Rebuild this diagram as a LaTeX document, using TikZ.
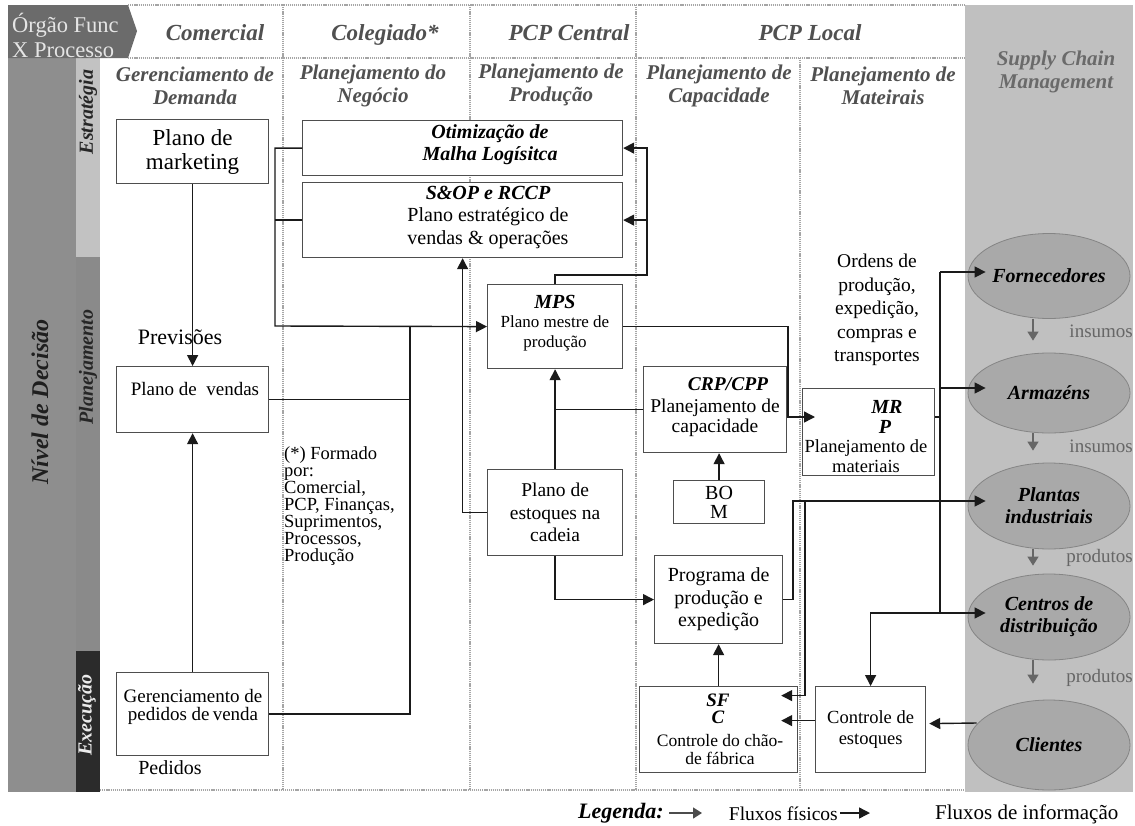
\documentclass[tikz,border=0pt]{standalone}
\usepackage{fontspec}
\setmainfont{Liberation Serif}
\usetikzlibrary{arrows.meta,calc,shapes.geometric}
\newcommand\fsz[2]{\fontsize{#1pt}{#2pt}\selectfont}
\definecolor{hdrdark}{HTML}{6B6B6B}
\definecolor{leftgray}{HTML}{8E8E8E}
\definecolor{stratgray}{HTML}{C2C2C2}
\definecolor{plangray}{HTML}{8A8A8A}
\definecolor{execdark}{HTML}{2B2B2B}
\definecolor{scmgray}{HTML}{C0C0C0}
\definecolor{ellgray}{HTML}{A9A9A9}
\definecolor{ellline}{HTML}{858585}
\definecolor{headtext}{HTML}{505050}
\definecolor{scmtext}{HTML}{6A6A6A}
\definecolor{boxline}{HTML}{4E4E4E}
\definecolor{gridline}{HTML}{A5A5A5}
\definecolor{linkcol}{HTML}{1A1A1A}
\definecolor{physcol}{HTML}{666666}
\begin{document}
\begin{tikzpicture}[x=1pt,y=-1pt,
  box/.style={draw=boxline, line width=1.2pt, fill=white, inner sep=0pt, anchor=north west, align=center},
  txt/.style={inner sep=0pt, align=center, text=black},
  head/.style={inner sep=0pt, anchor=base, text=headtext, font=\fsz{23}{25}\bfseries\itshape},
  sub/.style={inner sep=0pt, align=center, text=headtext, font=\fsz{21}{23}\bfseries\itshape},
  side/.style={inner sep=0pt, rotate=90, font=\fsz{20}{22}\bfseries\itshape},
  ell/.style={ellipse, draw=ellline, fill=ellgray, line width=0.8pt, inner sep=0pt, minimum width=162pt, align=center, font=\fsz{20}{22}\bfseries\itshape},
  grid/.style={draw=gridline, line width=1.8pt, dash pattern=on 1.2pt off 0.9pt},
  link/.style={draw=linkcol, line width=1.4pt},
  info/.style={link, -{Triangle[length=11pt,width=11pt]}},
  phys/.style={draw=physcol, line width=1.4pt, -{Triangle[length=9pt,width=11pt]}},
  tag/.style={inner sep=0pt, text=physcol, font=\fsz{19}{21}}
]
\useasboundingbox (0,0) rectangle (1135,825);
\fill[white] (0,0) rectangle (1135,825);

% ---- background bands
\fill[scmgray] (965,5) rectangle (1133,792);
\fill[leftgray] (8,58) rectangle (76,792);
\fill[stratgray] (76,58) rectangle (100,257);
\fill[plangray] (76,257) rectangle (100,651);
\fill[execdark] (76,651) rectangle (100,792);
\fill[hdrdark] (8,5) -- (128,5) -- (137,31) -- (128,58) -- (8,58) -- cycle;
\node[inner sep=0pt, anchor=west, align=left, text=white!90!black, font=\fsz{22.5}{25}] (corner) at (12,35) {Órgão Func\\X Processo};

% ---- grid
\draw[grid] (128,5) -- (965,5);
\draw[grid] (128,58) -- (965,58);
\draw[grid] (100,790) -- (965,790);
\draw[grid] (283,5) -- (283,790);
\draw[grid] (470,5) -- (470,790);
\draw[grid] (636,5) -- (636,790);
\draw[grid] (800,58) -- (800,790);

% ---- side labels
\node[side, font=\fsz{24}{26}\bfseries\itshape, text=black!88] (nivel) at (40,402) {Nível de Decisão};
\node[side, text=black!85] (estr) at (88,112) {Estratégia};
\node[side, text=black!85] (plan) at (88,367) {Planejamento};
\node[side, text=white!92!black] (exec) at (87,715) {Execução};

% ---- column headers
\node[head] (h1) at (215,40) {Comercial};
\node[head] (h2) at (385,40) {Colegiado*};
\node[head] (h3) at (569,40) {PCP Central};
\node[head] (h4) at (810,40) {PCP Local};
\node[sub] (s1) at (195,86) {Gerenciamento de\\Demanda};
\node[sub] (s2) at (373,86) {Planejamento do\\Negócio};
\node[sub] (s3) at (551,85) {Planejamento de\\Produção};
\node[sub] (s4) at (719,86) {Planejamento de\\Capacidade};
\node[sub] (s5) at (883,86) {Planejamento de\\Mateirais};
\node[sub, text=scmtext] (s6) at (1056,72) {Supply Chain\\Management};

% ---- process boxes
\node[box, minimum width=152pt, minimum height=64pt, font=\fsz{23}{24}] (mkt) at (116,119) {Plano de\\marketing};
\node[box, minimum width=320pt, minimum height=55pt] (otim) at (302,120) {};
\node[txt, font=\fsz{20}{22}\bfseries\itshape] (otimt) at (490,145) {Otimização de\\Malha Logísitca};
\node[box, minimum width=320pt, minimum height=75pt] (sop) at (302,182) {};
\node[txt, font=\fsz{20}{22.5}] (sopt) at (488,217) {{\bfseries\itshape S\&OP e RCCP}\\Plano estratégico de\\vendas \& operações};
\node[box, minimum width=135pt, minimum height=84pt] (mps) at (487,284) {};
\node[txt, font=\fsz{17}{19.5}] (mpst) at (555,323) {{\fsz{20}{19.5}\bfseries\itshape MPS}\\Plano mestre de\\produção};
\node[box, minimum width=135pt, minimum height=86pt, font=\fsz{19.5}{22.5}] (est) at (487,469) {Plano de\\estoques na\\cadeia};
\node[box, minimum width=143pt, minimum height=86pt] (crp) at (643,366) {};
\node[txt, font=\fsz{19.5}{20}\bfseries\itshape] (crpa) at (728,384) {CRP/CPP};
\node[txt, font=\fsz{19.5}{20}] (crpb) at (715,418) {Planejamento de\\capacidade};
\node[box, minimum width=91pt, minimum height=43pt, font=\fsz{20}{19}] (bom) at (673,480) {BO\\M};
\node[box, minimum width=132pt, minimum height=87pt] (mrp) at (802,388) {};
\node[txt, font=\fsz{20}{21}\bfseries\itshape] (mrpa) at (887,407) {MR};
\node[txt, font=\fsz{20}{21}\bfseries\itshape] (mrpb) at (885,427) {P};
\node[txt, font=\fsz{18.5}{20}] (mrpc) at (866,456) {Planejamento de\\materiais};
\node[box, minimum width=128pt, minimum height=88pt, font=\fsz{20}{22.5}] (prog) at (654,555) {Programa de\\produção e\\expedição};
\node[box, minimum width=158pt, minimum height=86pt] (sfc) at (639,686) {};
\node[txt, font=\fsz{19}{17}\bfseries\itshape] (sfca) at (718,709) {SF\\C};
\node[txt, font=\fsz{17.5}{18}] (sfcb) at (720,750) {Controle do chão-\\de fábrica};
\node[box, minimum width=110pt, minimum height=86pt, font=\fsz{18.5}{21}] (ctrl) at (815,686) {Controle de\\estoques};
\node[box, minimum width=152pt, minimum height=66pt] (vendas) at (116,366) {};
\node[txt, font=\fsz{19}{21}] (vendast) at (195,389) {Plano de\enspace vendas};
\node[box, minimum width=152pt, minimum height=83pt] (ped) at (116,672) {};
\node[txt, font=\fsz{19}{18}] (pedt) at (193,707) {Gerenciamento de\\pedidos de\,venda};

% ---- free labels
\node[txt, font=\fsz{22}{24}] (prev) at (180,337) {Previsões};
\node[txt, font=\fsz{20}{22}] (pedl) at (170,768) {Pedidos};
\node[txt, align=left, anchor=west, fill=white, font=\fsz{18.5}{17}] (form) at (284,506) {(*) Formado\\por:\\Comercial,\\PCP, Finanças,\\Suprimentos,\\Processos,\\Produção};
\node[txt, font=\fsz{19.5}{23.5}] (ordens) at (877,310) {Ordens de\\produção,\\expedição,\\compras e\\transportes};

% ---- supply chain
\node[ell, minimum height=85pt] (forn) at (1049,276) {Fornecedores};
\node[ell, minimum height=80pt] (arm) at (1049,393) {Armazéns};
\node[ell, minimum height=86pt] (pla) at (1049,506) {Plantas\\industriais};
\node[ell, minimum height=86pt] (cen) at (1049,617) {Centros de\\distribuição};
\node[ell, minimum height=90pt] (cli) at (1049,745) {Clientes};
\draw[phys, shorten >=12pt] ($(forn.south)+(-16,0)$) -- ($(arm.north)+(-16,0)$);
\draw[phys, shorten >=12pt] ($(arm.south)+(-16,0)$) -- ($(pla.north)+(-16,0)$);
\draw[phys, shorten >=8pt] ($(pla.south)+(-16,0)$) -- ($(cen.north)+(-16,0)$);
\draw[phys, shorten >=16pt] ($(cen.south)+(-16,0)$) -- ($(cli.north)+(-16,0)$);
\node[tag, anchor=east] (tg1) at (1133,331) {insumos};
\node[tag, anchor=east] (tg2) at (1133,446) {insumos};
\node[tag, anchor=east] (tg3) at (1133,558) {produtos};
\node[tag, anchor=east] (tg4) at (1133,678) {produtos};

% ---- information flows
\draw[info] (mkt.south) -- (vendas.north);
\draw[info] (ped.north) -- (vendas.south);
\coordinate (cL) at (275,326);
\coordinate (cM) at (410,326);
\draw[info] (otim.west) -| (cL) -- (mps.west);
\draw[link] (sop.west) -- (sop.west -| cL);
\draw[link] (vendas.east) -| (cM);
\draw[link] (ped.east) -| (cM);
\draw[info] (est.west) -| (sop.south);
\coordinate (cR) at (647,275);
\draw[info] (mps.north) |- (cR) |- (otim.east);
\draw[info] (sop.east -| cR) -- (sop.east);
\draw[info] (est.north) -- (mps.south);
\draw[link] (crp.west) -- (crp.west -| est.north);
\draw[info] (est.south) |- (prog.west);
\draw[info] (bom.north) -- (bom.north |- crp.south);
\draw[info] (sfc.north) -- (prog.south);
\coordinate (cQ) at (788,417);
\draw[info, shorten >=-13pt] (mps.east) -| (cQ) -- (cQ -| mrp.west);

% trunk towards the supply chain
\coordinate (tT) at (940,272);
\coordinate (tA) at (940,388);
\coordinate (tM) at (940,417);
\coordinate (tB) at (940,613);
\draw[link] (tT) -- (tB);
\draw[link] (tM -| mrp.east) -- (tM);
\draw[info, shorten >=-18pt] (tT) -- (tT -| forn.west);
\draw[info, shorten >=-18pt] (tA) -- (tA -| arm.west);
\draw[info, shorten >=-18pt] (tB) -- (tB -| cen.west);
\draw[info] (tB) -| (ctrl.north);
\coordinate (pU) at (793,501);
\coordinate (pS) at (805,501);
\draw[info, shorten >=-18pt] (prog.east) -| (pU) -- (pU -| pla.west);
\draw[info, shorten >=-17pt] (pS) |- ($(sfc.east)+(0,-34)$);
\draw[info, shorten >=-17pt] ($(ctrl.west)+(0,-9)$) -- ($(sfc.east)+(0,-9)$);
\draw[info] ($(cli.west)+(9,-22)$) -- ($(ctrl.east)+(3,-6)$);

% ---- legend
\node[txt, anchor=west, font=\fsz{22}{24}\bfseries\itshape] (leg) at (578,813) {Legenda:};
\coordinate (lg1) at (669,813);
\coordinate (lg2) at (702,813);
\draw[phys, draw=black!70] (lg1) -- (lg2);
\node[txt, anchor=east, font=\fsz{19.5}{21}] (legp) at (838,814) {Fluxos físicos};
\coordinate (lg3) at (840,813);
\coordinate (lg4) at (870,813);
\draw[info] (lg3) -- (lg4);
\node[txt, anchor=west, font=\fsz{21}{23}] (legi) at (935,814) {Fluxos de informação};
\end{tikzpicture}
\end{document}
